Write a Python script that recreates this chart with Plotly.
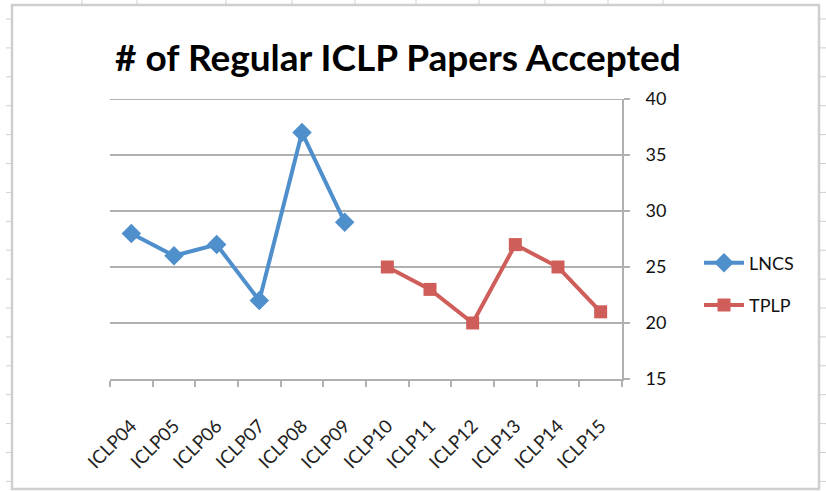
import plotly.graph_objects as go

categories = ["ICLP04", "ICLP05", "ICLP06", "ICLP07", "ICLP08", "ICLP09",
              "ICLP10", "ICLP11", "ICLP12", "ICLP13", "ICLP14", "ICLP15"]
lncs = [28, 26, 27, 22, 37, 29, None, None, None, None, None, None]
tplp = [None, None, None, None, None, None, 25, 23, 20, 27, 25, 21]
y_ticks = [15, 20, 25, 30, 35, 40]

W, H = 826, 491
L, R, T, B = 110, 622, 99, 379

BLUE = "#4F8FCC"
RED = "#CF5E5B"
GRID = "#b0b0b0"
FRAME = "#cfcfcf"
FONT = "Lato, 'Open Sans', sans-serif"

fig = go.Figure()
fig.add_trace(go.Scatter(x=categories, y=lncs, name="LNCS", mode="lines+markers",
                         legendgroup="a",
                         line=dict(color=BLUE, width=4),
                         marker=dict(symbol="diamond", size=15, color=BLUE)))
fig.add_trace(go.Scatter(x=categories, y=tplp, name="TPLP", mode="lines+markers",
                         legendgroup="b",
                         line=dict(color=RED, width=4),
                         marker=dict(symbol="square", size=13, color=RED)))

def px(x):
    return (x - L) / (R - L)

def py(y):
    return (B - y) / (B - T)

shapes = []
# chart area frame
shapes.append(dict(type="rect", xref="paper", yref="paper",
                   x0=px(12), x1=px(819), y0=py(489), y1=py(5),
                   line=dict(color=FRAME, width=2.5), layer="below"))
# top gridline (at the edge of the range)
shapes.append(dict(type="line", xref="paper", yref="y",
                   x0=0, x1=1, y0=max(y_ticks), y1=max(y_ticks),
                   line=dict(color=GRID, width=2), layer="below"))
# spreadsheet row marks on left and right
y = 19.0
while y < 488:
    shapes.append(dict(type="line", xref="paper", yref="paper",
                       x0=px(6), x1=px(12), y0=py(y), y1=py(y),
                       line=dict(color=FRAME, width=1)))
    shapes.append(dict(type="line", xref="paper", yref="paper",
                       x0=px(819), x1=px(826), y0=py(y), y1=py(y),
                       line=dict(color=FRAME, width=1)))
    y += 28.9
for x in [82, 137, 226, 292, 355, 416, 479, 545, 608, 663]:
    shapes.append(dict(type="line", xref="paper", yref="paper",
                       x0=px(x), x1=px(x), y0=py(0), y1=py(5),
                       line=dict(color=FRAME, width=1)))

fig.update_layout(
    width=W, height=H,
    margin=dict(l=L, r=W - R, t=T, b=H - B),
    paper_bgcolor="white", plot_bgcolor="white",
    font=dict(family=FONT, color="#111111"),
    title=dict(text="<b># of Regular ICLP Papers Accepted</b>",
               font=dict(size=37, family=FONT, color="#000000"),
               x=398 / W, xanchor="center", y=1 - 58 / H, yanchor="middle"),
    showlegend=True,
    legend=dict(x=px(699), y=py(284), xanchor="left", yanchor="middle",
                font=dict(size=18, family=FONT), itemwidth=40,
                traceorder="grouped", tracegroupgap=16,
                bgcolor="rgba(0,0,0,0)"),
    shapes=shapes,
    xaxis=dict(type="category", range=[-0.5, 11.5],
               tickson="boundaries", ticks="outside", ticklen=6,
               tickcolor=GRID, tickwidth=2,
               showline=True, linecolor=GRID, linewidth=2,
               showgrid=False, tickangle=-45, ticklabelstandoff=27,
               tickfont=dict(size=18.5, family=FONT, color="#222222")),
    yaxis=dict(range=[15, 40], tickvals=y_ticks, side="right",
               showline=True, linecolor=GRID, linewidth=2,
               ticks="outside", ticklen=6, tickcolor=GRID, tickwidth=2,
               showgrid=True, gridcolor=GRID, gridwidth=2,
               zeroline=False, ticklabelstandoff=12,
               tickfont=dict(size=18, family=FONT, color="#111111")),
)

fig.write_html("out.html", config={"displayModeBar": False},
               post_script="document.body.style.margin='0';")
